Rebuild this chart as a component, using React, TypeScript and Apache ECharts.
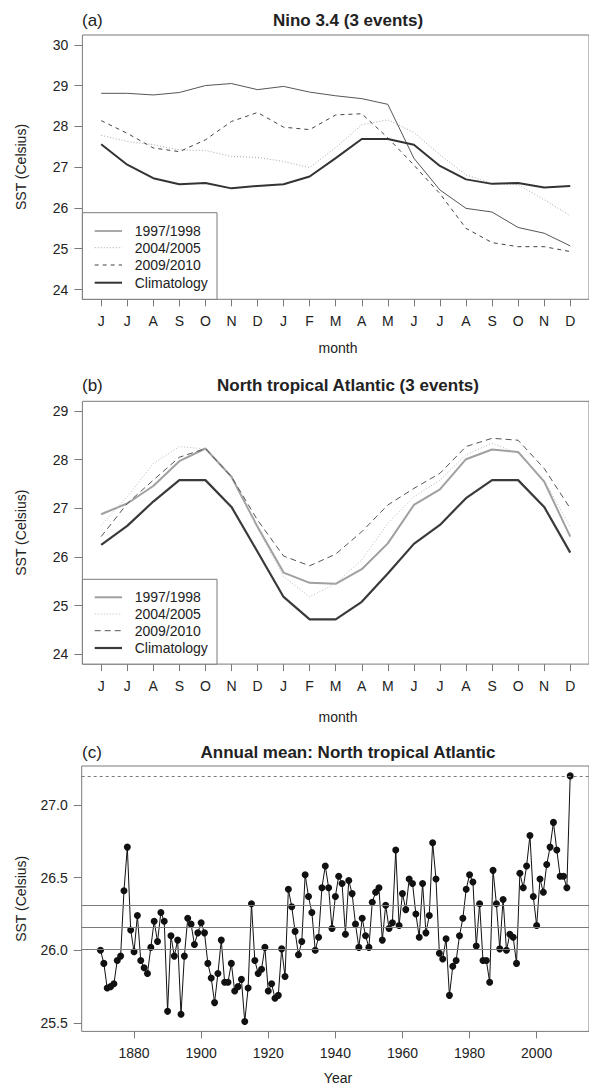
import React, { useEffect, useRef } from "react";
import * as echarts from "echarts";

// ---------- data ----------
const months = ["J", "J", "A", "S", "O", "N", "D", "J", "F", "M", "A", "M", "J", "J", "A", "S", "O", "N", "D"];
const monthTicks = [1, 2, 3, 4, 5, 6, 7, 8, 9, 10, 11, 12, 13, 14, 15, 16, 17, 18, 19];

// (a) Nino 3.4
const nino9798 = [28.81, 28.81, 28.77, 28.83, 29.0, 29.05, 28.9, 28.98, 28.84, 28.75, 28.68, 28.54, 27.22, 26.44, 25.99, 25.9, 25.52, 25.38, 25.07];
const nino0405 = [27.78, 27.63, 27.55, 27.42, 27.41, 27.26, 27.24, 27.14, 26.99, 27.48, 28.04, 28.16, 27.85, 27.3, 26.81, 26.6, 26.57, 26.2, 25.81];
const nino0910 = [28.14, 27.83, 27.47, 27.38, 27.67, 28.12, 28.34, 27.98, 27.92, 28.28, 28.31, 27.72, 27.05, 26.35, 25.5, 25.15, 25.05, 25.05, 24.93];
const ninoClim = [27.56, 27.06, 26.73, 26.58, 26.61, 26.48, 26.54, 26.58, 26.77, 27.22, 27.69, 27.69, 27.55, 27.03, 26.7, 26.59, 26.61, 26.5, 26.54];

// (b) North tropical Atlantic
const nta9798 = [26.88, 27.1, 27.46, 27.97, 28.23, 27.65, 26.62, 25.68, 25.47, 25.45, 25.75, 26.28, 27.07, 27.39, 28.01, 28.21, 28.16, 27.55, 26.42];
const nta0405 = [26.65, 27.24, 27.92, 28.27, 28.22, 27.65, 26.59, 25.6, 25.18, 25.46, 25.94, 26.69, 27.24, 27.58, 28.1, 28.34, 28.13, 27.58, 26.62];
const nta0910 = [26.42, 27.1, 27.58, 28.05, 28.23, 27.65, 26.76, 26.02, 25.82, 26.06, 26.52, 27.07, 27.41, 27.72, 28.27, 28.44, 28.4, 27.82, 27.0];
const ntaClim = [26.25, 26.64, 27.14, 27.58, 27.58, 27.03, 26.11, 25.18, 24.72, 24.72, 25.08, 25.66, 26.27, 26.66, 27.21, 27.58, 27.58, 27.03, 26.09];

// (c) Annual mean, North tropical Atlantic, 1870-2010
const firstYear = 1870;
const annualMean = [
  26.0, 25.91, 25.74, 25.75, 25.77, 25.93, 25.96, 26.41, 26.71, 26.14,
  25.99, 26.24, 25.93, 25.88, 25.84, 26.02, 26.2, 26.06, 26.26, 26.2,
  25.58, 26.1, 25.96, 26.07, 25.56, 25.96, 26.22, 26.18, 26.04, 26.12,
  26.19, 26.12, 25.91, 25.81, 25.64, 25.84, 26.07, 25.78, 25.78, 25.91,
  25.72, 25.75, 25.8, 25.51, 25.74, 26.32, 25.93, 25.84, 25.87, 26.02,
  25.72, 25.77, 25.67, 25.69, 26.01, 25.82, 26.42, 26.3, 26.13, 25.97,
  26.06, 26.52, 26.37, 26.26, 26.0, 26.09, 26.43, 26.58, 26.43, 26.15,
  26.37, 26.51, 26.46, 26.11, 26.48, 26.39, 26.18, 26.02, 26.22, 26.1,
  26.02, 26.33, 26.4, 26.43, 26.07, 26.31, 26.15, 26.19, 26.69, 26.17,
  26.39, 26.28, 26.49, 26.46, 26.25, 26.09, 26.46, 26.12, 26.24, 26.74,
  26.49, 25.98, 25.94, 26.08, 25.69, 25.89, 25.93, 26.1, 26.22, 26.42,
  26.52, 26.47, 26.03, 26.32, 25.93, 25.93, 25.78, 26.55, 26.32, 26.01,
  26.35, 26.0, 26.11, 26.09, 25.91, 26.53, 26.43, 26.58, 26.79, 26.37,
  26.17, 26.49, 26.4, 26.59, 26.71, 26.88, 26.69, 26.51, 26.51, 26.43, 27.2,
];
const refLines = [26.01, 26.16, 26.31];
const recordLine = 27.2;

const yTicksA = [24, 25, 26, 27, 28, 29, 30];
const yTicksB = [24, 25, 26, 27, 28, 29];
const yTicksC = [25.5, 26.0, 26.5, 27.0];
const xTicksC = [1880, 1900, 1920, 1940, 1960, 1980, 2000];

const legendNames = ["1997/1998", "2004/2005", "2009/2010", "Climatology"];

// ---------- styles ----------
const FONT = '"Liberation Sans", Arial, Helvetica, sans-serif';
const TXT = "#222";
const FRAME = "#7a7a7a";

const stylesA = [
  { color: "#555", width: 1, type: "solid" as any },
  { color: "#a8a8a8", width: 1, type: [1, 2] as any },
  { color: "#444", width: 1, type: [4, 4] as any },
  { color: "#333", width: 2, type: "solid" as any },
];
const stylesB = [
  { color: "#a0a0a0", width: 2, type: "solid" as any },
  { color: "#b8b8b8", width: 1, type: [1, 2] as any },
  { color: "#555", width: 1, type: [6, 4] as any },
  { color: "#3a3a3a", width: 2.2, type: "solid" as any },
];

const PLOT_LEFT = 82.4;
const PLOT_W = 510.2;

function valueAxis(grid: number, min: number, max: number, ticks: number[], fmt: (v: number) => string, isX: boolean) {
  return {
    type: "value",
    gridIndex: grid,
    min,
    max,
    axisLine: { show: false },
    splitLine: { show: false },
    axisTick: {
      show: true,
      length: isX ? 7 : 8,
      lineStyle: { color: FRAME, width: 1 },
      customValues: ticks,
    },
    axisLabel: {
      customValues: ticks,
      formatter: (v: number) => fmt(v),
      margin: isX ? 15 : 14,
      fontSize: 14,
      color: TXT,
      fontFamily: FONT,
      showMinLabel: true,
      showMaxLabel: true,
    },
  };
}

function monthSeries(name: string, data: number[], idx: number, st: any) {
  return {
    type: "line",
    name,
    xAxisIndex: idx,
    yAxisIndex: idx,
    data: data.map((v, i) => [monthTicks[i], v]),
    symbol: "none",
    silent: true,
    lineStyle: { color: st.color, width: st.width, type: st.type },
    z: 2,
  };
}

function text(t: string, x: number, y: number, size: number, opts: any = {}) {
  return {
    type: "text",
    x,
    y,
    rotation: opts.rotation || 0,
    z: 50,
    silent: true,
    style: {
      text: t,
      fill: TXT,
      fontSize: size,
      fontFamily: FONT,
      fontWeight: opts.bold ? "bold" : "normal",
      textAlign: opts.align || "center",
      textVerticalAlign: "middle",
      align: opts.align || "center",
      verticalAlign: "middle",
    },
  };
}

function legend(top: number, bottom: number, rows: number[], styles: any[]) {
  const els: any[] = [
    {
      type: "rect",
      z: 40,
      silent: true,
      shape: { x: PLOT_LEFT, y: top, width: 217 - PLOT_LEFT, height: bottom - top },
      style: { fill: "#fff", stroke: FRAME, lineWidth: 1 },
    },
  ];
  legendNames.forEach((n, i) => {
    const st = styles[i];
    els.push({
      type: "line",
      z: 41,
      silent: true,
      shape: { x1: 94.7, y1: rows[i], x2: 122, y2: rows[i] },
      style: {
        stroke: st.color,
        lineWidth: st.width,
        lineDash: Array.isArray(st.type) ? st.type : null,
      },
    });
    els.push(text(n, 134.7, rows[i], 14, { align: "left" }));
  });
  return els;
}

export default function App() {
  const ref = useRef<HTMLDivElement>(null);

  useEffect(() => {
    if (!ref.current) return;
    const chart = echarts.init(ref.current, undefined, { renderer: "svg" });
    const monthFmt = (v: number) => months[Math.round(v) - 1] || "";

    const option: any = {
      animation: false,
      backgroundColor: "#fff",
      grid: [
        { left: PLOT_LEFT, top: 35, width: PLOT_W, height: 264.3, show: true, borderColor: FRAME, borderWidth: 1, backgroundColor: "transparent" },
        { left: PLOT_LEFT, top: 401.3, width: PLOT_W, height: 262.8, show: true, borderColor: FRAME, borderWidth: 1, backgroundColor: "transparent" },
        { left: 81.7, top: 766, width: 510.5, height: 265.4, show: true, borderColor: FRAME, borderWidth: 1, backgroundColor: "transparent" },
      ],
      xAxis: [
        valueAxis(0, 0.28, 19.72, monthTicks, monthFmt, true),
        valueAxis(1, 0.28, 19.72, monthTicks, monthFmt, true),
        valueAxis(2, 1864.4, 2015.6, xTicksC, (v) => String(Math.round(v)), true),
      ],
      yAxis: [
        valueAxis(0, 23.76, 30.24, yTicksA, (v) => String(Math.round(v)), false),
        valueAxis(1, 23.8, 29.2, yTicksB, (v) => String(Math.round(v)), false),
        valueAxis(2, 25.442, 27.268, yTicksC, (v) => v.toFixed(1), false),
      ],
      series: [
        monthSeries("1997/1998", nino9798, 0, stylesA[0]),
        monthSeries("2004/2005", nino0405, 0, stylesA[1]),
        monthSeries("2009/2010", nino0910, 0, stylesA[2]),
        monthSeries("Climatology", ninoClim, 0, stylesA[3]),
        monthSeries("1997/1998", nta9798, 1, stylesB[0]),
        monthSeries("2004/2005", nta0405, 1, stylesB[1]),
        monthSeries("2009/2010", nta0910, 1, stylesB[2]),
        monthSeries("Climatology", ntaClim, 1, stylesB[3]),
        {
          type: "line",
          name: "Annual mean",
          xAxisIndex: 2,
          yAxisIndex: 2,
          data: annualMean.map((v, i) => [firstYear + i, v]),
          symbol: "circle",
          symbolSize: 7,
          silent: true,
          itemStyle: { color: "#111" },
          lineStyle: { color: "#111", width: 1 },
          z: 3,
          markLine: {
            silent: true,
            symbol: "none",
            animation: false,
            label: { show: false },
            lineStyle: { color: "#7a7a7a", width: 1, type: "solid" },
            data: [
              ...refLines.map((v) => ({ yAxis: v })),
              { yAxis: recordLine, lineStyle: { color: "#7a7a7a", width: 1, type: [3, 3] } },
            ],
          },
        },
      ],
      graphic: [
        text("(a)", 82, 20, 17, { align: "left" }),
        text("Nino 3.4 (3 events)", 348, 20, 17, { bold: true }),
        text("month", 338, 348, 14),
        text("SST (Celsius)", 21, 167, 14, { rotation: Math.PI / 2 }),
        text("(b)", 82, 385, 17, { align: "left" }),
        text("North tropical Atlantic (3 events)", 348, 385, 17, { bold: true }),
        text("month", 338, 717, 14),
        text("SST (Celsius)", 21, 532.7, 14, { rotation: Math.PI / 2 }),
        text("(c)", 82, 752, 17, { align: "left" }),
        text("Annual mean: North tropical Atlantic", 348, 752, 17, { bold: true }),
        text("Year", 338, 1078, 14),
        text("SST (Celsius)", 21, 898.8, 14, { rotation: Math.PI / 2 }),
        ...legend(212.7, 299.3, [231, 247.7, 265, 282.7], stylesA),
        ...legend(579.3, 664.1, [597.3, 614, 630.7, 648], stylesB),
      ],
    };

    chart.setOption(option);
    return () => chart.dispose();
  }, []);

  return (
    <div
      ref={ref}
      style={{ position: "absolute", left: 0, top: 0, width: 589, height: 1086, background: "#fff" }}
    />
  );
}
